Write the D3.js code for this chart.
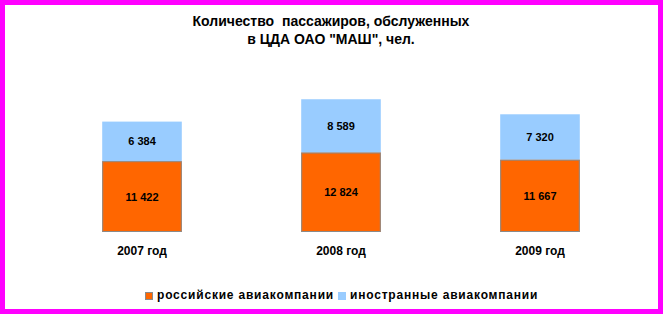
<!DOCTYPE html>
<html>
<head>
<meta charset="utf-8">
<script src="https://cdn.jsdelivr.net/npm/d3@7"></script>
<style>
  html, body { margin: 0; padding: 0; background: #fff; }
  svg { display: block; }
</style>
</head>
<body>
<svg id="chart" width="663" height="314"></svg>
<script>
const years = ['2007 год', '2008 год', '2009 год']
const russian = [11422, 12824, 11667]
const foreign = [6384, 8589, 7320]
const seriesNames = ['российские авиакомпании', 'иностранные авиакомпании']
const titleLines = ['Количество  пассажиров, обслуженных', 'в ЦДА ОАО "МАШ", чел.']

const colors = ['#ff6600', '#99ccff']
const fmt = function (v) { return d3.format(',')(v).replace(/,/g, ' ') }

let svg = d3.select('#chart')
let width = +svg.attr('width')
let height = +svg.attr('height')

// magenta frame
svg.append('rect')
  .attr('x', 2.5).attr('y', 2.5)
  .attr('width', width - 5).attr('height', height - 5)
  .attr('fill', '#fff')
  .attr('stroke', '#ff00ff')
  .attr('stroke-width', 5)

// title
svg.append('g').selectAll('text')
  .data(titleLines)
  .enter().append('text')
  .attr('x', 331)
  .attr('y', function (d, i) { return 26 + i * 18 })
  .attr('text-anchor', 'middle')
  .style('font-family', 'Arial, "Liberation Sans", sans-serif')
  .style('font-weight', 'bold')
  .style('font-size', '14px')
  .style('white-space', 'pre')
  .text(function (d) { return d })

let x = d3.scaleBand()
  .domain(years)
  .range([42.5, 639.5])
  .paddingInner(0.6)
  .paddingOuter(0.3)

let y = d3.scaleLinear()
  .domain([0, 25000])
  .range([232, 77])

let stackData = years.map(function (yr, i) {
  return { year: yr, r: russian[i], f: foreign[i] }
})
let stacked = d3.stack().keys(['r', 'f'])(stackData)

let layers = svg.append('g').selectAll('g')
  .data(stacked)
  .enter().append('g')
  .attr('fill', function (d, i) { return colors[i] })

layers.selectAll('rect')
  .data(function (d) { return d })
  .enter().append('rect')
  .attr('x', function (d) { return x(d.data.year) })
  .attr('y', function (d) { return y(d[1]) })
  .attr('width', x.bandwidth())
  .attr('height', function (d) { return y(d[0]) - y(d[1]) })

// thin gray edge on orange bars
svg.append('g').selectAll('rect')
  .data(stacked[0])
  .enter().append('rect')
  .attr('x', function (d) { return x(d.data.year) + 0.5 })
  .attr('y', function (d) { return y(d[1]) + 0.5 })
  .attr('width', x.bandwidth() - 1)
  .attr('height', function (d) { return y(d[0]) - y(d[1]) - 1 })
  .attr('fill', 'none')
  .attr('stroke', '#8a8a8a')
  .attr('stroke-width', 1)

// value labels
layers.selectAll('text')
  .data(function (d) { return d })
  .enter().append('text')
  .attr('x', function (d) { return x(d.data.year) + x.bandwidth() / 2 })
  .attr('y', function (d) { return (y(d[0]) + y(d[1])) / 2 + 4 })
  .attr('text-anchor', 'middle')
  .attr('fill', '#000')
  .style('font-family', 'Arial, "Liberation Sans", sans-serif')
  .style('font-weight', 'bold')
  .style('font-size', '11px')
  .text(function (d) { return fmt(d[1] - d[0]) })

// category labels
svg.append('g').selectAll('text')
  .data(years)
  .enter().append('text')
  .attr('x', function (d) { return x(d) + x.bandwidth() / 2 })
  .attr('y', 255)
  .attr('text-anchor', 'middle')
  .style('font-family', 'Arial, "Liberation Sans", sans-serif')
  .style('font-weight', 'bold')
  .style('font-size', '12px')
  .text(function (d) { return d })

// legend
let legendX = [145, 338]
let legend = svg.append('g').selectAll('g')
  .data(seriesNames)
  .enter().append('g')
  .attr('transform', function (d, i) { return 'translate(' + legendX[i] + ',292)' })

legend.append('rect')
  .attr('x', 0.5).attr('y', 0.5)
  .attr('width', 7).attr('height', 7)
  .attr('fill', function (d, i) { return colors[i] })
  .attr('stroke', function (d, i) { return i === 0 ? '#8a8a8a' : colors[i] })

legend.append('text')
  .attr('x', 12)
  .attr('y', 7)
  .style('font-family', 'Arial, "Liberation Sans", sans-serif')
  .style('font-weight', 'bold')
  .style('font-size', '12px')
  .style('letter-spacing', '0.8px')
  .text(function (d) { return d })
</script>
</body>
</html>
